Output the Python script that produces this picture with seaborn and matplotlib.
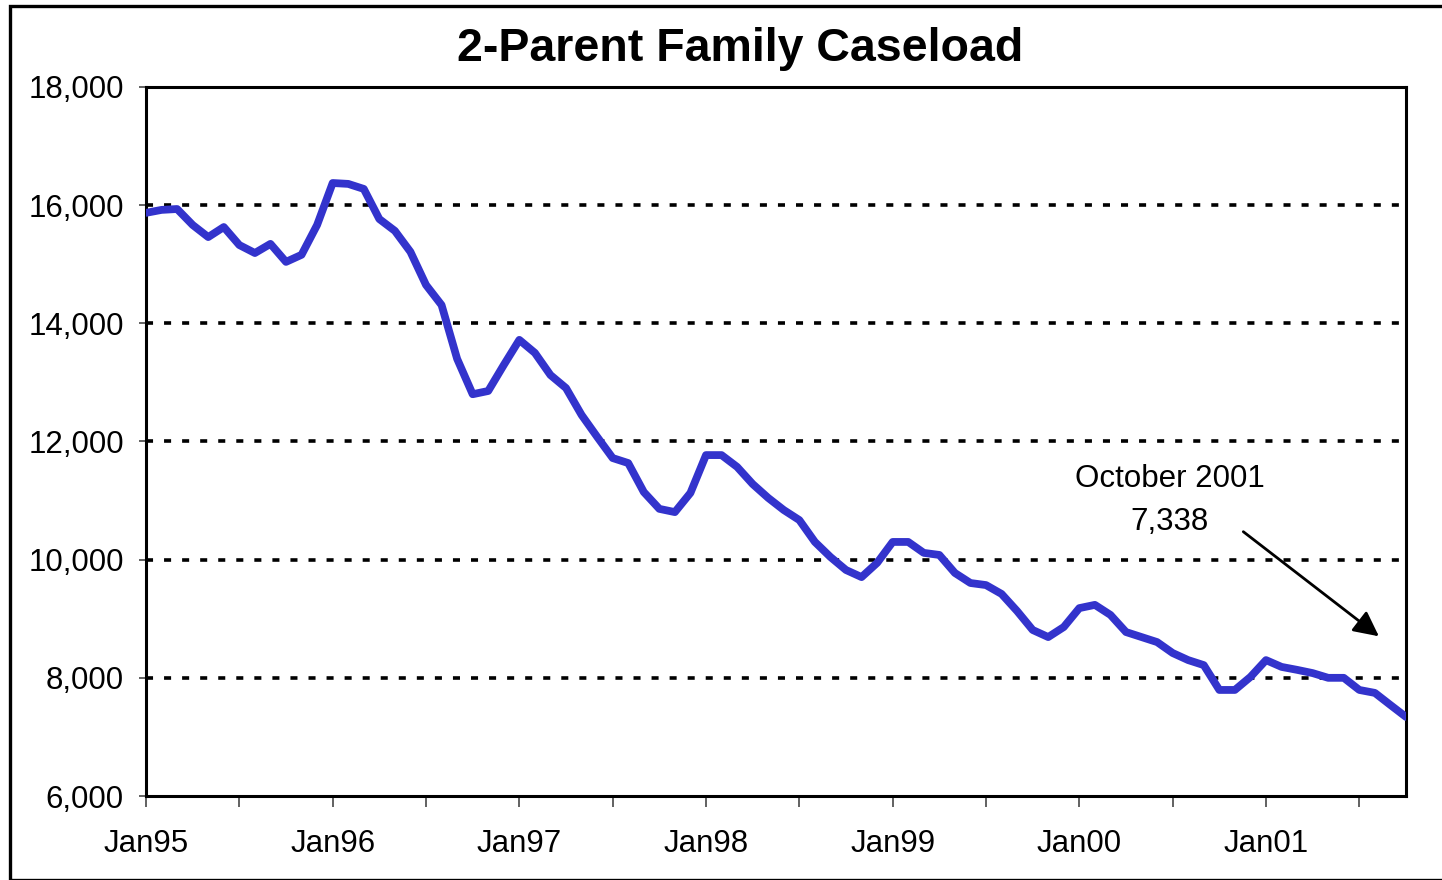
import matplotlib
matplotlib.use("Agg")
import matplotlib.pyplot as plt
import matplotlib.ticker as mticker
from matplotlib.patches import Rectangle
import seaborn as sns
import pandas as pd
import numpy as np

# ---- data (monthly, Jan 1995 .. Oct 2001) ----
caseload_1995 = [15870, 15920, 15935, 15665, 15460, 15630, 15325, 15190, 15345, 15040, 15160, 15665]
caseload_1996 = [16375, 16360, 16275, 15765, 15565, 15210, 14650, 14310, 13400, 12800, 12855, 13295]
caseload_1997 = [13720, 13500, 13125, 12905, 12450, 12080, 11720, 11635, 11145, 10860, 10805, 11130]
caseload_1998 = [11770, 11770, 11570, 11280, 11045, 10840, 10670, 10300, 10045, 9825, 9705, 9945]
caseload_1999 = [10300, 10300, 10115, 10080, 9775, 9605, 9570, 9420, 9130, 8810, 8690, 8860]
caseload_2000 = [9180, 9235, 9065, 8775, 8690, 8605, 8420, 8300, 8215, 7795, 7795, 8015]
caseload_2001 = [8300, 8185, 8135, 8080, 8000, 8000, 7795, 7745, 7540, 7338]

year_labels = ["Jan95", "Jan96", "Jan97", "Jan98", "Jan99", "Jan00", "Jan01"]
y_ticks = [6000, 8000, 10000, 12000, 14000, 16000, 18000]
title = "2-Parent Family Caseload"
annotation_text = "October 2001\n7,338"

values = (caseload_1995 + caseload_1996 + caseload_1997 + caseload_1998
          + caseload_1999 + caseload_2000 + caseload_2001)
df = pd.DataFrame({"month": np.arange(len(values)), "caseload": values})

sns.set_theme(style="white")
plt.rcParams["font.family"] = ["Liberation Sans", "DejaVu Sans"]
plt.rcParams["text.color"] = "black"
plt.rcParams["xtick.color"] = "black"
plt.rcParams["ytick.color"] = "black"

fig = plt.figure(figsize=(14.42, 8.8), dpi=100)
ax = fig.add_axes([146 / 1442, 1 - 796 / 880, (1406 - 146) / 1442, (796 - 87) / 880])

# outer frame
fig.patches.append(Rectangle((10 / 1442, 0), 1.0, 1 - 6 / 880, transform=fig.transFigure,
                             fill=False, edgecolor="black", linewidth=2.4, zorder=0))

# gridlines
for yv in y_ticks[1:]:
    ax.axhline(yv, color="black", linewidth=2.6, linestyle=(0, (1.95, 3.05)), zorder=1)

sns.lineplot(data=df, x="month", y="caseload", ax=ax, color="#3333CC",
             linewidth=5.6, zorder=3)

ax.set_xlim(0, len(values) - 1)
ax.set_ylim(6000, 18000)
ax.set_yticks(y_ticks)
ax.yaxis.set_major_formatter(mticker.FuncFormatter(lambda v, p: f"{int(v):,}"))
ax.set_xticks(np.arange(0, len(values), 12))
ax.set_xticklabels(year_labels)
ax.set_xticks(np.arange(6, len(values), 12), minor=True)
ax.set_xlabel("")
ax.set_ylabel("")

ax.tick_params(axis="x", which="both", direction="out", length=8, width=1.3,
               color="#555555", bottom=True)
ax.tick_params(axis="x", which="major", labelsize=22.5, pad=16, labelcolor="black")
ax.tick_params(axis="y", direction="out", length=5, width=1.3, left=True,
               labelsize=22.5, pad=11, labelcolor="black", color="#555555")

for s in ax.spines.values():
    s.set_color("black")
    s.set_linewidth(2.2)

fig.text(740 / 1442, 1 - 49 / 880, title, ha="center", va="center",
         fontsize=33.5, fontweight="bold", color="black")

ax.annotate("", xy=(79.4, 8674), xytext=(70.4, 10502),
            arrowprops=dict(arrowstyle="-|>", color="black", lw=2.0,
                            mutation_scale=38))
ax.text(65.8, 10380, annotation_text, ha="center", va="bottom",
        fontsize=22.5, linespacing=1.58, color="black")

fig.savefig("out.png", dpi=100)
